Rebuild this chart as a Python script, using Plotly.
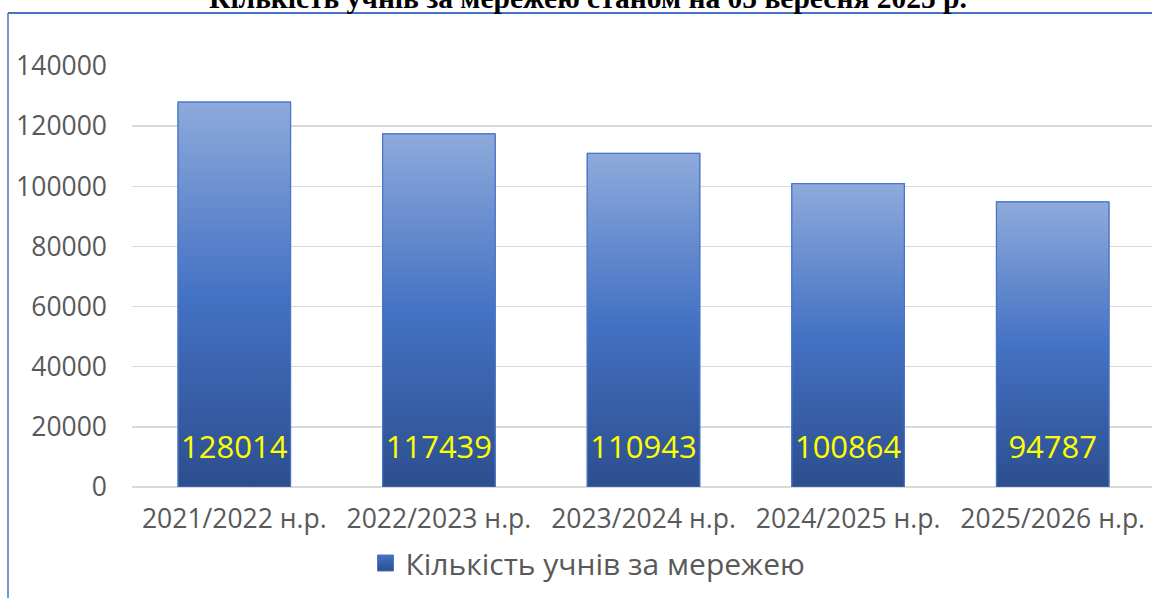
import plotly.graph_objects as go

categories = ["2021/2022 н.р.", "2022/2023 н.р.", "2023/2024 н.р.", "2024/2025 н.р.", "2025/2026 н.р."]
values = [128014, 117439, 110943, 100864, 94787]
y_ticks = [0, 20000, 40000, 60000, 80000, 100000, 120000, 140000]
series_name = "Кількість учнів за мережею"
title_text = "Кількість учнів за мережею станом на 05 вересня 2025 р."

W, H = 1152, 598
L, R, T, B = 132, 0, 66, 111
plot_w = W - L - R
plot_h = H - T - B

def px_x(p):
    return (p - L) / plot_w

def px_y(p):
    return (H - B - p) / plot_h

DARK = "#2c4e8e"
MID = "#4472c4"
LIGHT = "#8eaadb"
EDGE = "#4a74c6"
bar_w = 0.55
idx = list(range(len(categories)))

fig = go.Figure()

# base bar trace (data)
fig.add_trace(go.Bar(x=idx, y=values, width=bar_w, marker=dict(color=MID, line=dict(color=EDGE, width=1)),
                     showlegend=False, hoverinfo="skip"))

# gradient overlay for each bar
for i, v in zip(idx, values):
    fig.add_trace(go.Scatter(
        x=[i - bar_w / 2, i + bar_w / 2, i + bar_w / 2, i - bar_w / 2, i - bar_w / 2],
        y=[0, 0, v, v, 0],
        mode="lines", fill="toself",
        fillgradient=dict(type="vertical", start=0, stop=v,
                          colorscale=[[0, DARK], [0.5, MID], [1, LIGHT]]),
        line=dict(color=EDGE, width=1.2),
        showlegend=False, hoverinfo="skip"))

# data labels
label_y = 12300
fig.add_trace(go.Scatter(x=idx, y=[label_y] * len(values), mode="text",
                         text=[str(v) for v in values],
                         textfont=dict(family="Open Sans", size=31, color="#ffff00"),
                         showlegend=False, hoverinfo="skip"))

# legend entry
fig.add_trace(go.Scatter(x=[None], y=[None], mode="markers", name=series_name,
                         marker=dict(symbol="square", size=16, color=MID,
                                     gradient=dict(type="vertical", color=DARK),
                                     line=dict(color=EDGE, width=1))))

fig.update_layout(
    width=W, height=H,
    margin=dict(l=L, r=R, t=T, b=B),
    paper_bgcolor="white", plot_bgcolor="white",
    font=dict(family="Open Sans", size=26.5, color="#595959"),
    xaxis=dict(range=[-0.5, 4.5 - 3 / 204.6], tickvals=idx, ticktext=categories,
               showgrid=False, zeroline=False, showline=False, ticks="",
               ticklabelstandoff=13,
               tickfont=dict(size=26.5, color="#595959"), fixedrange=True),
    yaxis=dict(range=[0, 140000], tickvals=y_ticks, ticktext=[str(t) for t in y_ticks],
               showgrid=True, gridcolor="#d9d9d9", gridwidth=1.3,
               zeroline=True, zerolinecolor="#d9d9d9", zerolinewidth=1.3,
               showline=False, ticks="", ticklabelstandoff=24,
               tickfont=dict(size=26.5, color="#595959"), fixedrange=True),
    showlegend=True,
    legend=dict(orientation="h", x=px_x(588), xanchor="center", y=px_y(563), yanchor="middle",
                font=dict(size=30, color="#595959"), bgcolor="rgba(0,0,0,0)"),
    shapes=[
        dict(type="line", xref="paper", yref="paper", x0=px_x(8), x1=1.0, y0=px_y(13), y1=px_y(13),
             line=dict(color="#4472c4", width=2)),
        dict(type="line", xref="paper", yref="paper", x0=px_x(8), x1=px_x(8), y0=px_y(13), y1=px_y(600),
             line=dict(color="#4472c4", width=1.5)),
    ],
    annotations=[
        dict(text="<b>" + title_text + "</b>", xref="paper", yref="paper",
             x=px_x(588), y=px_y(8), xanchor="center", yanchor="bottom", yshift=-8,
             showarrow=False, font=dict(family="Liberation Serif", size=29.5, color="#000000"))
    ],
)

fig.write_html("out.html",
               config={"displayModeBar": False, "staticPlot": True},
               post_script="document.body.style.margin='0';document.body.style.overflow='hidden';")
